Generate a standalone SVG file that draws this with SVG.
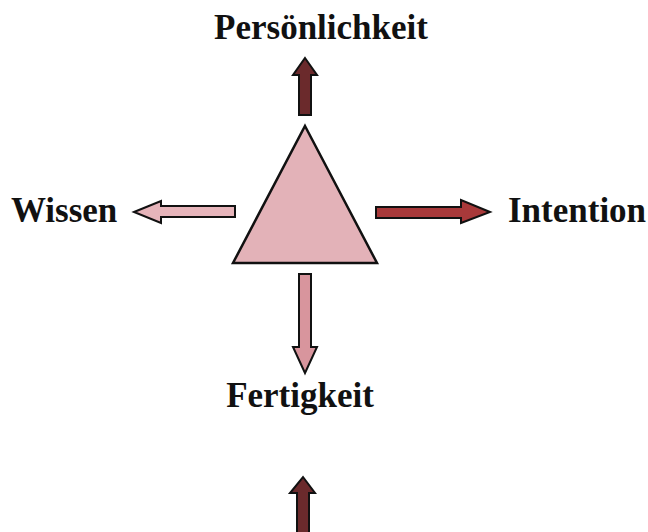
<svg xmlns="http://www.w3.org/2000/svg" width="648" height="532" viewBox="0 0 648 532">
  <style>
    .label { font-family: "Liberation Serif", "Times New Roman", serif; font-weight: bold; font-size: 35px; fill: #111; }
    .arrow { stroke: #111; stroke-width: 2; stroke-linejoin: miter; }
    .dark { fill: #6b2a2c; }
    .red { fill: #a8393a; }
    .pink { fill: #e6b4ba; }
    .rose { fill: #d8959d; }
  </style>
  <rect width="648" height="532" fill="#ffffff"/>

  <g id="triangle">
    <polygon points="305,126 377,263 233,263" fill="#e3b2b8" stroke="#111" stroke-width="2.5" stroke-linejoin="miter"/>
  </g>

  <g id="connectors">
    <!-- up: Persönlichkeit -->
    <polygon class="arrow dark" points="305,58 317,75 311,75 311,115 299,115 299,75 293,75"/>
    <!-- left: Wissen -->
    <polygon class="arrow pink" points="134,212 161,201 161,206 235,206 235,217 161,217 161,223"/>
    <!-- right: Intention -->
    <polygon class="arrow red" points="490,212 461,200 461,207 376,207 376,218 461,218 461,223"/>
    <!-- down: Fertigkeit -->
    <polygon class="arrow rose" points="305,373 317,347 311,347 311,274 299,274 299,347 293,347"/>
    <!-- bottom, entering from below -->
    <polygon class="arrow dark" points="303,477 315,493 309,493 309,540 297,540 297,493 290,493"/>
  </g>

  <g id="persoenlichkeit">
    <text class="label" x="321" y="39" text-anchor="middle">Persönlichkeit</text>
  </g>
  <g id="wissen">
    <text class="label" x="11" y="222">Wissen</text>
  </g>
  <g id="intention">
    <text class="label" x="508" y="222">Intention</text>
  </g>
  <g id="fertigkeit">
    <text class="label" x="300" y="407" text-anchor="middle">Fertigkeit</text>
  </g>
</svg>
